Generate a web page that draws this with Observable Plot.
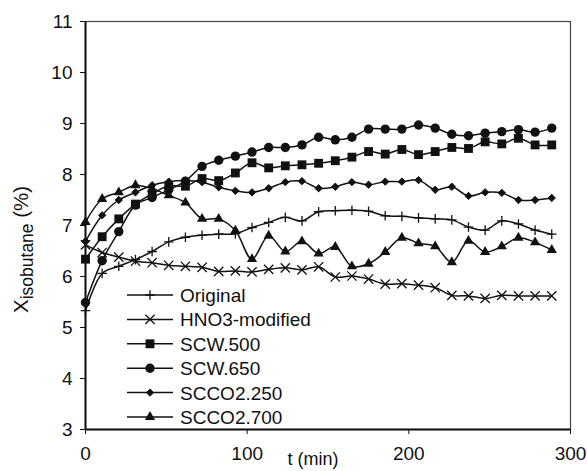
<!DOCTYPE html>
<html>
<head>
<meta charset="utf-8">
<script src="https://cdn.jsdelivr.net/npm/d3@7"></script>
<script src="https://cdn.jsdelivr.net/npm/@observablehq/plot@0.6"></script>
<style>
  html, body { margin: 0; padding: 0; background: #fff; }
  svg { font-family: "Liberation Sans", Arial, sans-serif; }
</style>
</head>
<body>
<div id="chart"></div>
<script>
// ---- data ----
const times = [0, 10.3, 20.6, 30.9, 41.2, 51.5, 61.8, 72.1, 82.4, 92.7, 103, 113.3, 123.6, 133.9, 144.2,
  154.5, 164.8, 175.1, 185.4, 195.7, 206, 216.3, 226.6, 236.9, 247.2, 257.5, 267.8, 278.1, 288.4];
const seriesNames = ["Original", "HNO3-modified", "SCW.500", "SCW.650", "SCCO2.250", "SCCO2.700"];
const original = [5.33, 6.06, 6.20, 6.33, 6.49, 6.68, 6.77, 6.81, 6.83, 6.84, 6.96, 7.06, 7.16, 7.09, 7.27,
  7.29, 7.30, 7.28, 7.19, 7.18, 7.15, 7.13, 7.11, 6.97, 6.91, 7.09, 7.03, 6.91, 6.83];
const hno3 = [6.62, 6.47, 6.38, 6.30, 6.27, 6.22, 6.20, 6.18, 6.10, 6.11, 6.09, 6.14, 6.17, 6.13, 6.19,
  5.99, 6.01, 5.95, 5.85, 5.86, 5.83, 5.78, 5.63, 5.62, 5.57, 5.63, 5.62, 5.62, 5.62];
const scw500 = [6.34, 6.78, 7.13, 7.42, 7.62, 7.78, 7.77, 7.92, 7.88, 8.03, 8.23, 8.13, 8.17, 8.19, 8.22,
  8.27, 8.34, 8.45, 8.40, 8.49, 8.39, 8.45, 8.53, 8.51, 8.64, 8.60, 8.71, 8.58, 8.58];
const scw650 = [5.49, 6.31, 6.88, 7.40, 7.55, 7.70, 7.87, 8.16, 8.28, 8.36, 8.44, 8.53, 8.53, 8.58, 8.73,
  8.68, 8.73, 8.89, 8.89, 8.89, 8.97, 8.91, 8.79, 8.76, 8.81, 8.84, 8.88, 8.83, 8.91];
const scco2_250 = [6.69, 7.20, 7.50, 7.65, 7.79, 7.86, 7.88, 7.85, 7.75, 7.68, 7.65, 7.73, 7.85, 7.87, 7.73,
  7.76, 7.85, 7.80, 7.86, 7.86, 7.89, 7.70, 7.76, 7.58, 7.65, 7.64, 7.50, 7.50, 7.54];
const scco2_700 = [7.07, 7.52, 7.65, 7.79, 7.72, 7.59, 7.45, 7.13, 7.13, 6.90, 6.34, 6.80, 6.49, 6.69, 6.45,
  6.58, 6.20, 6.25, 6.48, 6.76, 6.65, 6.59, 6.28, 6.70, 6.48, 6.59, 6.76, 6.67, 6.52];
const xTicks = [0, 100, 200, 300];
const yTicks = [3, 4, 5, 6, 7, 8, 9, 10, 11];

// ---- styles ----
const seriesValues = [original, hno3, scw500, scw650, scco2_250, scco2_700];
const styles = [
  {symbol: "plus", d3sym: d3.symbolPlus, r: 3.2, fill: "none", sw: 1.3},
  {symbol: "times", d3sym: d3.symbolTimes, r: 4.3, fill: "none", sw: 1.3},
  {symbol: "square", d3sym: d3.symbolSquare, r: 5.0, fill: "#111", sw: 0},
  {symbol: "circle", d3sym: d3.symbolCircle, r: 4.7, fill: "#111", sw: 0},
  {symbol: "diamond2", d3sym: d3.symbolDiamond2, r: 3.3, fill: "#111", sw: 1},
  {symbol: "triangle", d3sym: d3.symbolTriangle, r: 3.8, fill: "#111", sw: 0}
];

const W = 587, H = 471;
const marks = [
  Plot.frame({stroke: "#444", strokeWidth: 1.2}),
  Plot.axisX({ticks: xTicks, tickSize: 5, tickPadding: 12, label: null, tickFormat: d => String(d)}),
  Plot.axisY({ticks: yTicks, tickSize: 5, tickPadding: 8, label: null, tickFormat: d => String(d)}),
  Plot.ruleX([0], {stroke: "#111", strokeWidth: 2}),
  Plot.ruleY([3], {stroke: "#111", strokeWidth: 2})
];
seriesNames.forEach((name, k) => {
  const rows = times.map((t, i) => ({t, v: seriesValues[k][i], name}));
  const st = styles[k];
  marks.push(Plot.line(rows, {x: "t", y: "v", stroke: "#111", strokeWidth: 1.5, curve: "catmull-rom"}));
  marks.push(Plot.dot(rows, {x: "t", y: "v", symbol: st.symbol, r: st.r, fill: st.fill,
    stroke: "#111", strokeWidth: st.sw}));
});

const chart = Plot.plot({
  width: W, height: H,
  marginLeft: 85, marginRight: 17, marginTop: 21, marginBottom: 42,
  style: {fontSize: "19px", fontFamily: "'Liberation Sans', Arial, sans-serif", color: "#111", background: "#fff"},
  x: {domain: [0, 300]},
  y: {domain: [3, 11]},
  marks
});
document.getElementById("chart").appendChild(chart);

// ---- legend and axis titles ----
const svg = d3.select(chart);
const lg = svg.append("g").attr("font-size", 19).attr("fill", "#111").attr("text-anchor", "start");
seriesNames.forEach((name, i) => {
  const y = 295 + i * 24.4;
  const st = styles[i];
  lg.append("line").attr("x1", 127).attr("x2", 173).attr("y1", y).attr("y2", y)
    .attr("stroke", "#111").attr("stroke-width", 1.5);
  lg.append("path").attr("transform", `translate(150,${y})`)
    .attr("d", d3.symbol(st.d3sym, Math.PI * st.r * st.r)())
    .attr("fill", st.fill).attr("stroke", "#111").attr("stroke-width", st.sw);
  lg.append("text").attr("x", 180).attr("y", y + 7).attr("text-anchor", "start").text(name);
});

const yl = svg.append("text").attr("transform", "translate(28,313) rotate(-90)")
  .attr("text-anchor", "start").attr("font-size", 20.5).attr("fill", "#111");
yl.append("tspan").text("X");
yl.append("tspan").attr("font-size", 17.5).attr("dy", 5).text("isobutane");
yl.append("tspan").attr("dy", -5).text(" (%)");

svg.append("text").attr("x", 313).attr("y", 465).attr("text-anchor", "middle")
  .attr("font-size", 18).attr("fill", "#111").text("t (min)");
</script>
</body>
</html>
